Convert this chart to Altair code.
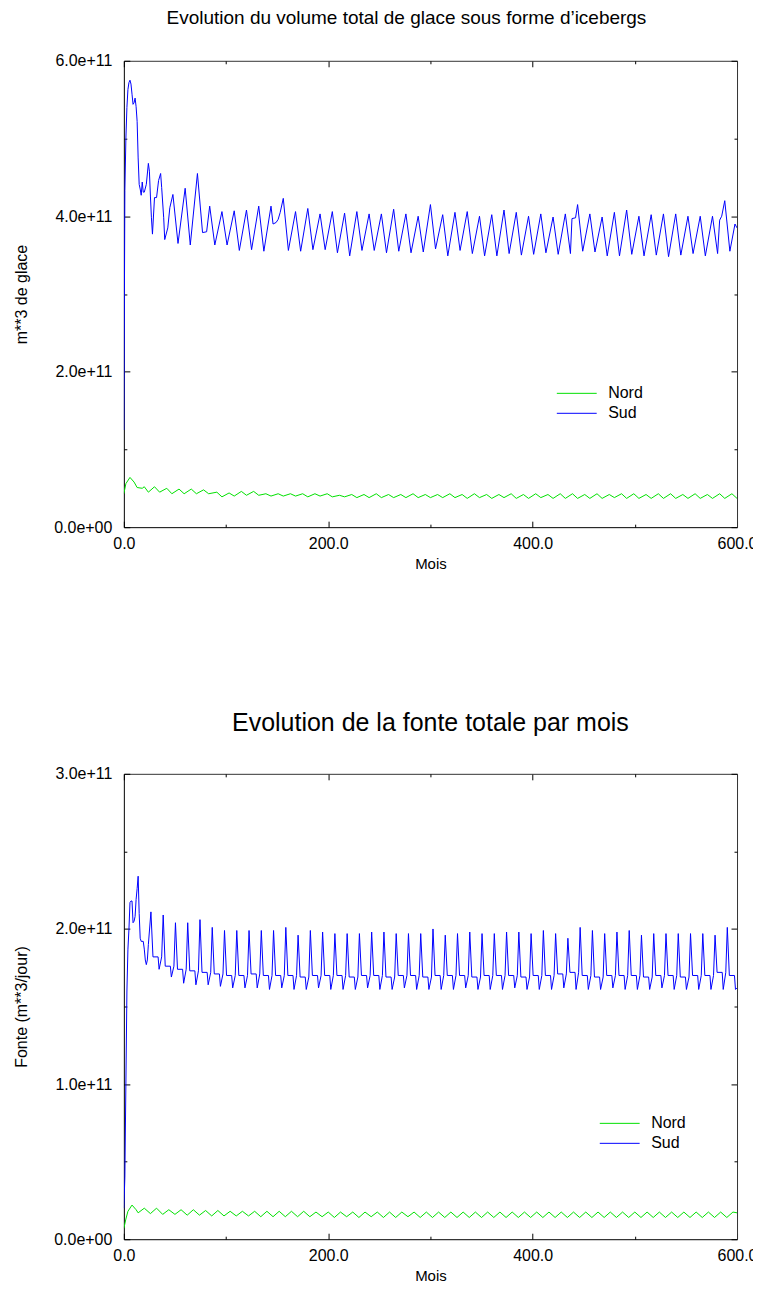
import altair as alt
import pandas as pd

# ---------------- données (valeurs en unités de 1e11) ----------------
# Panneau 1 : volume total de glace sous forme d'icebergs
vol_sud_debut_mois = [0, 1, 2, 3, 4, 5, 6, 7, 8, 9, 10, 11, 12, 13, 14, 15, 16, 17, 18, 19,
                      20, 22, 24, 25, 26, 27, 28, 30, 32, 34, 36, 37, 39, 40, 43, 45]
vol_sud_debut = [1.25, 4.33, 5.00, 5.40, 5.63, 5.72, 5.75, 5.70, 5.57, 5.44, 5.46, 5.52,
                 5.41, 5.22, 4.75, 4.41, 4.35, 4.27, 4.44, 4.31, 4.31, 4.41, 4.68, 4.58,
                 4.26, 3.98, 3.77, 4.24, 4.24, 4.46, 4.55, 4.37, 3.98, 3.70, 3.85, 4.11]
vol_sud_pics_mois = list(range(48, 589, 12))
vol_sud_pics = [4.28, 4.36, 4.55, 4.13, 4.06, 4.07, 4.08, 4.13, 4.13, 4.23,
                4.06, 4.10, 4.03, 4.06, 4.04, 4.06, 4.03, 4.03, 4.09, 4.03,
                4.00, 4.15, 4.02, 4.05, 4.06, 4.00, 4.02, 4.08, 4.05, 4.00,
                4.03, 3.99, 4.03, 4.15, 4.03, 3.99, 4.05, 4.08, 4.00, 4.02,
                4.03, 4.03, 4.00, 4.00, 4.00, 4.20]
vol_sud_creux_mois = list(range(53, 594, 12))
vol_sud_creux = [3.65, 3.63, 3.79, 3.63, 3.63, 3.56, 3.57, 3.55, 3.92, 3.56,
                 3.55, 3.57, 3.57, 3.53, 3.49, 3.56, 3.56, 3.53, 3.55, 3.53,
                 3.54, 3.58, 3.49, 3.56, 3.52, 3.49, 3.49, 3.52, 3.50, 3.51,
                 3.53, 3.51, 3.52, 3.55, 3.54, 3.49, 3.49, 3.51, 3.49, 3.50,
                 3.48, 3.50, 3.52, 3.49, 3.52, 3.55]
vol_sud_extra_mois = [81, 146, 151, 153, 438.5, 442, 583, 585, 598, 600]
vol_sud_extra = [3.80, 3.90, 3.96, 4.05, 3.97, 3.98, 3.95, 4.00, 3.90, 3.85]

vol_nord_debut_mois = [0, 2, 6, 10, 13, 18, 20, 24, 30, 35, 42, 47, 54, 59, 66, 71, 78, 83,
                       91, 96, 103, 108, 115, 120, 127, 132, 139, 144]
vol_nord_debut = [0.43, 0.56, 0.64, 0.58, 0.51, 0.50, 0.52, 0.45, 0.52, 0.45, 0.50, 0.43,
                  0.49, 0.43, 0.49, 0.43, 0.48, 0.43, 0.45, 0.39, 0.44, 0.40, 0.46, 0.41,
                  0.46, 0.41, 0.43, 0.40]
vol_nord_pics_mois = list(range(151, 596, 12))
vol_nord_pics = [0.43, 0.43, 0.43, 0.43, 0.43, 0.41, 0.42, 0.42, 0.43, 0.42,
                 0.42, 0.43, 0.42, 0.42, 0.43, 0.42, 0.43, 0.42, 0.42, 0.43,
                 0.42, 0.43, 0.42, 0.43, 0.43, 0.42, 0.43, 0.42, 0.43, 0.43,
                 0.42, 0.43, 0.43, 0.42, 0.43, 0.42, 0.43, 0.43]
vol_nord_creux_mois = list(range(156, 601, 12))
vol_nord_creux = [0.40, 0.40, 0.39, 0.40, 0.39, 0.39, 0.38, 0.38, 0.38, 0.38,
                  0.38, 0.38, 0.38, 0.38, 0.38, 0.37, 0.38, 0.37, 0.38, 0.37,
                  0.37, 0.38, 0.37, 0.37, 0.37, 0.37, 0.37, 0.38, 0.37, 0.37,
                  0.37, 0.37, 0.37, 0.37, 0.37, 0.37, 0.37, 0.37]

# Panneau 2 : fonte totale par mois
fonte_sud_debut_mois = [0, 1, 2, 3, 4, 5, 6, 7, 8, 9, 10, 11, 12, 13, 14, 15, 16, 17, 19,
                        20, 21, 22, 23, 24]
fonte_sud_debut = [0.20, 0.40, 1.00, 1.60, 1.87, 2.00, 2.17, 2.18, 2.18, 2.04, 2.05, 2.08,
                   2.19, 2.26, 2.34, 2.10, 1.94, 1.92, 1.92, 1.87, 1.80, 1.77, 1.80, 1.90]
# un cycle par an : pic, plateau, creux (années 2 à 49)
fonte_sud_annees = list(range(2, 50))
fonte_sud_pics = [2.11, 2.09, 2.04, 2.04, 2.06, 2.01, 1.99, 1.99, 1.99, 1.99,
                  1.99, 2.01, 1.96, 1.99, 1.98, 1.97, 1.97, 1.97, 1.98, 1.98,
                  1.97, 1.97, 1.97, 2.00, 1.96, 1.97, 1.98, 1.97, 1.97, 1.98,
                  1.98, 1.97, 1.99, 1.97, 1.94, 2.01, 1.99, 1.97, 1.98, 1.99,
                  1.96, 1.97, 1.97, 1.97, 1.97, 1.97, 1.96, 2.01]
fonte_sud_plateaux = [1.82, 1.76, 1.74, 1.73, 1.72, 1.71, 1.70, 1.70, 1.71, 1.70,
                      1.70, 1.70, 1.69, 1.70, 1.70, 1.70, 1.69, 1.70, 1.70, 1.69,
                      1.70, 1.70, 1.69, 1.70, 1.70, 1.70, 1.69, 1.70, 1.70, 1.70,
                      1.69, 1.70, 1.70, 1.71, 1.72, 1.70, 1.69, 1.70, 1.70, 1.70,
                      1.69, 1.70, 1.70, 1.69, 1.70, 1.70, 1.72, 1.70]
fonte_sud_creux = [1.74, 1.69, 1.65, 1.64, 1.64, 1.63, 1.62, 1.62, 1.62, 1.61,
                   1.62, 1.61, 1.61, 1.62, 1.61, 1.61, 1.61, 1.62, 1.61, 1.61,
                   1.62, 1.61, 1.61, 1.61, 1.61, 1.62, 1.61, 1.61, 1.61, 1.62,
                   1.61, 1.61, 1.61, 1.62, 1.61, 1.61, 1.61, 1.62, 1.61, 1.61,
                   1.61, 1.62, 1.61, 1.61, 1.61, 1.61, 1.61, 1.61]
fonte_sud_fin_mois = [600]
fonte_sud_fin = [1.62]
cycle_fonte_decalages = [0, 2, 7, 8, 10.5]   # position dans l'année (mois) des points lus

fonte_nord_debut_mois = [0, 2, 4, 8, 12, 14]
fonte_nord_debut = [0.07, 0.13, 0.18, 0.22, 0.19, 0.17]
fonte_nord_pics_mois = list(range(20, 597, 12))
fonte_nord_pics = [0.20, 0.20, 0.19, 0.19, 0.19, 0.185, 0.185, 0.18, 0.18, 0.18,
                   0.18, 0.18, 0.18, 0.18, 0.175, 0.175, 0.175, 0.175, 0.175, 0.175,
                   0.175, 0.175, 0.175, 0.175, 0.175, 0.175, 0.175, 0.175, 0.175, 0.175,
                   0.175, 0.175, 0.175, 0.175, 0.175, 0.175, 0.175, 0.175, 0.175, 0.175,
                   0.175, 0.175, 0.175, 0.175, 0.175, 0.175, 0.175, 0.175, 0.175]
fonte_nord_creux_mois = list(range(26, 597, 12))
fonte_nord_creux = [0.165, 0.16, 0.16, 0.155, 0.155, 0.15, 0.15, 0.15, 0.15, 0.145,
                    0.145, 0.145, 0.145, 0.145, 0.145, 0.14, 0.145, 0.14, 0.145, 0.14,
                    0.14, 0.145, 0.14, 0.14, 0.14, 0.14, 0.14, 0.14, 0.14, 0.14,
                    0.14, 0.14, 0.14, 0.14, 0.14, 0.14, 0.14, 0.14, 0.14, 0.14,
                    0.14, 0.14, 0.14, 0.14, 0.14, 0.14, 0.14, 0.14]
fonte_nord_fin_mois = [600]
fonte_nord_fin = [0.17]

series_noms = ["Nord", "Sud"]
series_couleurs = ["#00e000", "#0000ff"]

# ---------------- construction des tables ----------------
def serie(nom, parts):
    rows = []
    for mois, vals in parts:
        for m, v in zip(mois, vals):
            rows.append({"mois": m, "valeur": v * 1e11, "serie": nom})
    return sorted(rows, key=lambda r: r["mois"])

rows_vol = serie("Nord", [(vol_nord_debut_mois, vol_nord_debut),
                          (vol_nord_pics_mois, vol_nord_pics),
                          (vol_nord_creux_mois, vol_nord_creux)]) + \
           serie("Sud", [(vol_sud_debut_mois, vol_sud_debut),
                         (vol_sud_pics_mois, vol_sud_pics),
                         (vol_sud_creux_mois, vol_sud_creux),
                         (vol_sud_extra_mois, vol_sud_extra)])

cyc_mois, cyc_vals = [], []
for a, p, pl, c in zip(fonte_sud_annees, fonte_sud_pics, fonte_sud_plateaux, fonte_sud_creux):
    for d, v in zip(cycle_fonte_decalages, [p, pl, pl, c, pl]):
        m = 12 * a + 2.5 + d
        if m < 600:
            cyc_mois.append(m)
            cyc_vals.append(v)

rows_fonte = serie("Nord", [(fonte_nord_debut_mois, fonte_nord_debut),
                            (fonte_nord_pics_mois, fonte_nord_pics),
                            (fonte_nord_creux_mois, fonte_nord_creux),
                            (fonte_nord_fin_mois, fonte_nord_fin)]) + \
             serie("Sud", [(fonte_sud_debut_mois, fonte_sud_debut),
                           (cyc_mois, cyc_vals),
                           (fonte_sud_fin_mois, fonte_sud_fin)])

df_vol = pd.DataFrame(rows_vol)
df_fonte = pd.DataFrame(rows_fonte)

# ---------------- mise en forme ----------------
W = 614
FONT = "Liberation Sans"
x_major = [0, 200, 400, 600]
x_minor = [100, 300, 500]


def panneau(df, titre, titre_size, titre_dx, titre_offset, ytitre, ymax, H, leg_x, leg_y):
    y_major = [0, ymax / 3, 2 * ymax / 3, ymax]
    y_minor = [ymax / 6, ymax / 2, 5 * ymax / 6]
    xs = alt.Scale(domain=[0, 600], nice=False, zero=False)
    ys = alt.Scale(domain=[0, ymax], nice=False)
    base = alt.Chart(df)

    lines = base.mark_line(strokeWidth=1, clip=True).encode(
        x=alt.X("mois:Q", scale=xs, axis=alt.Axis(
            orient="bottom", values=x_major, labelExpr="format(datum.value, '.1f')",
            ticks=False, grid=False, domain=True, domainColor="#000", title="Mois",
            labelFont=FONT, labelFontSize=16, labelColor="#000", labelPadding=8,
            titleFont=FONT, titleFontSize=15, titleFontWeight="normal", titleColor="#000",
            titlePadding=5, labelFlush=False)),
        y=alt.Y("valeur:Q", scale=ys, axis=alt.Axis(
            orient="left", values=y_major,
            labelExpr="datum.value == 0 ? '0.0e+00' : format(datum.value, '.1e')",
            ticks=False, grid=False, domain=True, domainColor="#000", title=ytitre,
            labelFont=FONT, labelFontSize=16, labelColor="#000", labelPadding=12,
            titleFont=FONT, titleFontSize=16, titleFontWeight="normal", titleColor="#000",
            titlePadding=24, labelFlush=False)),
        color=alt.Color("serie:N", scale=alt.Scale(domain=series_noms, range=series_couleurs),
                        legend=alt.Legend(orient="none", legendX=leg_x, legendY=leg_y, title=None,
                                          symbolType="stroke", symbolSize=1600, symbolStrokeWidth=1,
                                          clipHeight=18, labelFont=FONT, labelFontSize=16,
                                          labelColor="#000", labelOffset=11, padding=0,
                                          rowPadding=2)),
    )

    def ticks(xo, xv, xsz, yo, yv, ysz, dom):
        return base.mark_line(opacity=0).encode(
            x=alt.X("mois:Q", scale=xs, axis=alt.Axis(
                orient=xo, offset=-H, values=xv, tickSize=xsz, tickColor="#000",
                labels=False, grid=False, domain=dom, domainColor="#333", title="")),
            y=alt.Y("valeur:Q", scale=ys, axis=alt.Axis(
                orient=yo, offset=-W, values=yv, tickSize=ysz, tickColor="#000",
                labels=False, grid=False, domain=dom, domainColor="#333", title="")),
        )

    layers = [
        lines,
        ticks("top", x_major, 6, "right", y_major, 6, False),
        ticks("top", x_minor, 3, "right", y_minor, 3, False),
        ticks("bottom", x_major, 6, "left", y_major, 6, True),
        ticks("bottom", x_minor, 3, "left", y_minor, 3, False),
    ]
    return alt.layer(*layers).resolve_axis(x="independent", y="independent").properties(
        width=W, height=H,
        title=alt.TitleParams(titre, font=FONT, fontSize=titre_size, fontWeight="normal",
                              color="#000", anchor="middle", dx=titre_dx, offset=titre_offset),
    )


haut = panneau(df_vol, "Evolution du volume total de glace sous forme d\u2019icebergs", 19, -24, 25,
               "m**3 de glace", 6e11, 467, 433, 324)
bas = panneau(df_fonte, "Evolution de la fonte totale par mois", 25, 0, 30,
              "Fonte (m**3/jour)", 3e11, 466, 476, 341)

chart = alt.vconcat(haut, bas, spacing=140).resolve_scale(color="independent").resolve_legend(
    color="independent").properties(
    padding={"left": 5, "top": 0, "right": -5, "bottom": 0},
    background="white",
).configure_view(stroke=None)

chart.save("out.html", embed_options={"renderer": "svg", "actions": False})
